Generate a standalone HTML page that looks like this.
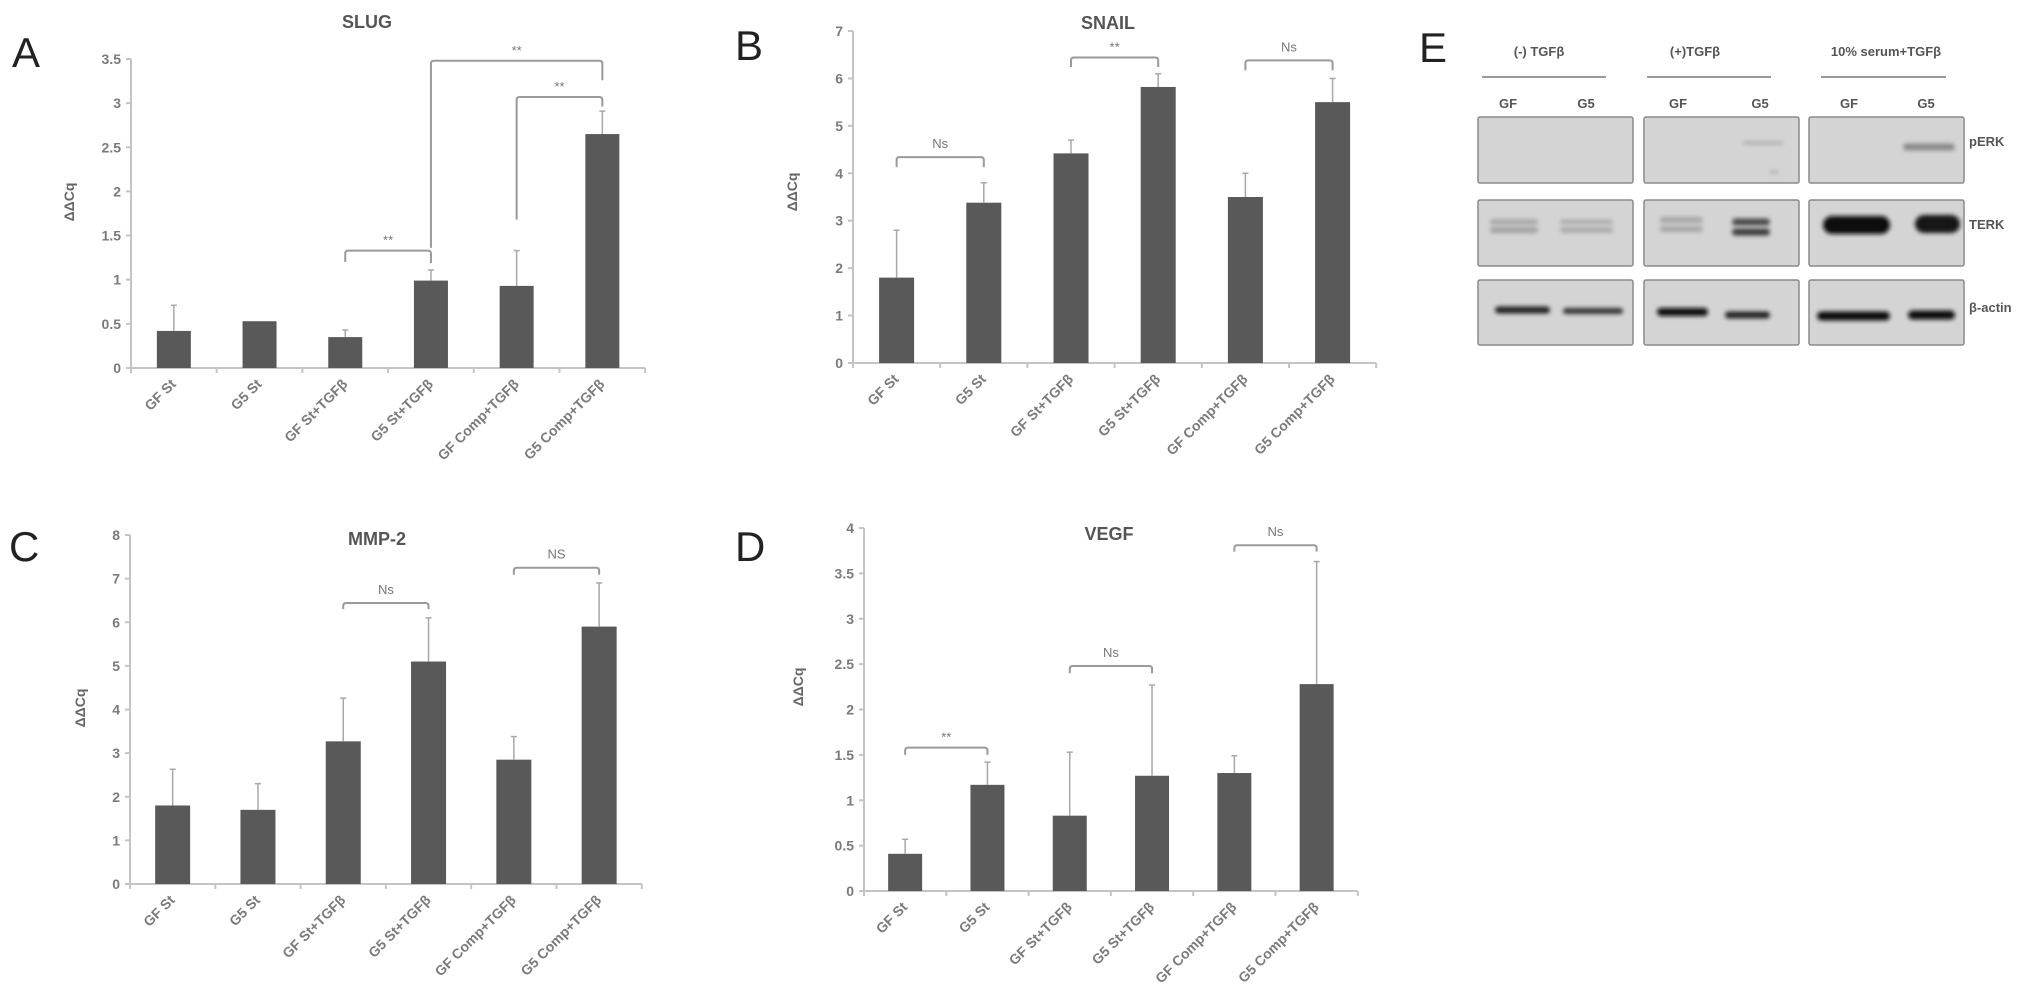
<!DOCTYPE html>
<html><head><meta charset="utf-8">
<style>
body{margin:0;background:#fff;}
svg{display:block;font-family:"Liberation Sans",sans-serif;}
.tick{fill:#7a7a7a;font-size:14px;font-weight:bold;}
.cat{fill:#7a7a7a;font-size:14px;font-weight:bold;}
.title{fill:#555;font-size:18px;font-weight:bold;}
.ylab{fill:#666;font-size:14px;font-weight:bold;}
.letter{fill:#222;font-size:42px;}
.sig{fill:#777;font-size:13px;}
.wb{fill:#555;font-size:13px;font-weight:bold;}
</style></head>
<body>
<svg id="fig" width="2031" height="1002" viewBox="0 0 2031 1002">
<defs>
<filter id="blur1" x="-20%" y="-200%" width="140%" height="500%"><feGaussianBlur stdDeviation="2.2"/></filter>
</defs>
</svg>
<script>
const categories = ["GF St","G5 St","GF St+TGFβ","G5 St+TGFβ","GF Comp+TGFβ","G5 Comp+TGFβ"];
const slugValues = [0.42,0.53,0.35,0.99,0.93,2.65];
const slugErrTop = [0.71,null,0.43,1.11,1.33,2.91];
const slugTicks = ["0","0.5","1","1.5","2","2.5","3","3.5"];
const snailValues = [1.8,3.38,4.42,5.82,3.5,5.5];
const snailErrTop = [2.8,3.8,4.7,6.1,4.0,6.0];
const snailTicks = ["0","1","2","3","4","5","6","7"];
const mmpValues = [1.8,1.7,3.27,5.1,2.85,5.9];
const mmpErrTop = [2.63,2.3,4.26,6.1,3.38,6.9];
const mmpTicks = ["0","1","2","3","4","5","6","7","8"];
const vegfValues = [0.41,1.17,0.83,1.27,1.3,2.28];
const vegfErrTop = [0.57,1.42,1.53,2.27,1.49,3.63];
const vegfTicks = ["0","0.5","1","1.5","2","2.5","3","3.5","4"];
// brackets: [fromBar, toBar, barY, leftLegY, rightLegY, label]
const slugBrackets = [[2,3,1.33,1.20,1.19,"**"],[3,5,3.48,1.36,3.26,"**"],[4,5,3.07,1.68,2.96,"**"]];
const snailBrackets = [[0,1,4.34,4.13,4.13,"Ns"],[2,3,6.44,6.24,6.24,"**"],[4,5,6.38,6.17,6.17,"Ns"]];
const mmpBrackets = [[2,3,6.44,6.3,6.3,"Ns"],[4,5,7.25,7.09,7.09,"NS"]];
const vegfBrackets = [[0,1,1.58,1.5,1.5,"**"],[2,3,2.48,2.4,2.4,"Ns"],[4,5,3.81,3.74,3.74,"Ns"]];

const NS="http://www.w3.org/2000/svg";
const fig=document.getElementById('fig');
function mk(tag,attrs,parent,text){const e=document.createElementNS(NS,tag);for(const k in attrs)e.setAttribute(k,attrs[k]);if(text!==undefined)e.textContent=text;(parent||fig).appendChild(e);return e;}

function chart(cfg){
  const g=mk('g',{});
  
  
  const x0=cfg.x0,y0=cfg.y0,step=cfg.step,ymax=cfg.ymax,yTop=cfg.yTop;
  const sy=v=>y0-(v/ymax)*(y0-yTop);
  const sx=i=>x0+step*(i+0.5);
  const xEnd=x0+step*categories.length;
  const L=mk('text',{x:cfg.lx,y:cfg.ly,class:'letter'},g,cfg.letter);
  
  
  const T=mk('text',{x:cfg.tx,y:cfg.ty,class:'title','text-anchor':'middle'},g,cfg.title);
  
  
  const Y=mk('text',{x:cfg.ylx,y:cfg.yly,class:'ylab','text-anchor':'middle',transform:`rotate(-90 ${cfg.ylx} ${cfg.yly})`},g,'ΔΔCq');
  
  
  const ya=mk('line',{x1:x0,y1:y0,x2:x0,y2:yTop,stroke:'#c4c4c4','stroke-width':2},g);
  
  
  const xa=mk('line',{x1:x0-4,y1:y0,x2:xEnd,y2:y0,stroke:'#c4c4c4','stroke-width':2},g);
  
  
  cfg.ticks.forEach((t,i)=>{
    const v=i*ymax/(cfg.ticks.length-1);
    const yy=sy(v);
    mk('line',{x1:x0-5,y1:yy,x2:x0,y2:yy,stroke:'#c4c4c4','stroke-width':2},g);
    const tl=mk('text',{x:x0-10,y:yy+5,class:'tick','text-anchor':'end'},g,t);
    
    
  });
  for(let i=0;i<=categories.length;i++){
    const xx=x0+step*i;
    mk('line',{x1:xx,y1:y0,x2:xx,y2:y0+5,stroke:'#c4c4c4','stroke-width':2},g);
  }
  categories.forEach((c,i)=>{
    const cx=sx(i)+3, cy=y0+17;
    const cl=mk('text',{x:cx,y:cy,class:'cat','text-anchor':'end',transform:`rotate(-45 ${cx} ${cy})`},g,c);
    
    
  });
  cfg.values.forEach((v,i)=>{
    const bw=cfg.bw;
    const r=mk('rect',{x:sx(i)-bw/2,y:sy(v),width:bw,height:y0-sy(v),fill:'#595959'},g);
    
    
    const e=cfg.err[i];
    if(e!=null){
      const l=mk('line',{x1:sx(i),y1:sy(v),x2:sx(i),y2:sy(e),stroke:'#a8a8a8','stroke-width':1.5},g);
      
      
      mk('line',{x1:sx(i)-3,y1:sy(e),x2:sx(i)+3,y2:sy(e),stroke:'#a8a8a8','stroke-width':1.5},g);
    }
  });
  cfg.brackets.forEach(b=>{
    const xa1=sx(b[0]),xb=sx(b[1]);
    const yb=sy(b[2]),yl=sy(b[3]),yr=sy(b[4]);
    const p=mk('path',{d:`M${xa1},${yl} L${xa1},${yb+3} Q${xa1},${yb} ${xa1+3},${yb} L${xb-3},${yb} Q${xb},${yb} ${xb},${yb+3} L${xb},${yr}`,fill:'none',stroke:'#9a9a9a','stroke-width':2},g);
    
    
    const st=mk('text',{x:(xa1+xb)/2,y:yb-(b[5]==='**'?6:9),class:'sig','text-anchor':'middle'},g,b[5]);
    
    
  });
}

chart({name:'slug-chart',letter:'A',lx:12,ly:67,title:'SLUG',tx:367,ty:28,ylx:74,yly:202,x0:131,y0:368,yTop:59,ymax:3.5,step:85.7,bw:34,ticks:slugTicks,values:slugValues,err:slugErrTop,brackets:slugBrackets});
chart({name:'snail-chart',letter:'B',lx:735,ly:60,title:'SNAIL',tx:1108,ty:29,ylx:797,yly:192,x0:853,y0:363,yTop:31,ymax:7,step:87.2,bw:35,ticks:snailTicks,values:snailValues,err:snailErrTop,brackets:snailBrackets});
chart({name:'mmp2-chart',letter:'C',lx:9,ly:561,title:'MMP-2',tx:377,ty:545,ylx:85,yly:708,x0:130,y0:884,yTop:535,ymax:8,step:85.3,bw:35,ticks:mmpTicks,values:mmpValues,err:mmpErrTop,brackets:mmpBrackets});
chart({name:'vegf-chart',letter:'D',lx:735,ly:561,title:'VEGF',tx:1109,ty:540,ylx:803,yly:687,x0:864,y0:891,yTop:528,ymax:4,step:82.3,bw:34,ticks:vegfTicks,values:vegfValues,err:vegfErrTop,brackets:vegfBrackets});

const E=mk('g',{});


const el=mk('text',{x:1419,y:62,class:'letter'},E,'E');


const groups=[["(-) TGFβ",1539,1482,1606,1508,1586],["(+)TGFβ",1695,1647,1771,1678,1760],["10% serum+TGFβ",1886,1821,1946,1849,1926]];
groups.forEach(gr=>{
  const h=mk('text',{x:gr[1],y:56,class:'wb','text-anchor':'middle'},E,gr[0]);
  
  
  mk('line',{x1:gr[2],y1:77,x2:gr[3],y2:77,stroke:'#999','stroke-width':2},E);
  const a=mk('text',{x:gr[4],y:108,class:'wb','text-anchor':'middle'},E,'GF');
  
  
  const b=mk('text',{x:gr[5],y:108,class:'wb','text-anchor':'middle'},E,'G5');
  
  
});
const boxX=[1478,1644,1809], rowsY=[[117,183],[200,266],[280,345]];
rowsY.forEach(r=>boxX.forEach(x=>{
  const b=mk('rect',{x:x,y:r[0],width:155,height:r[1]-r[0],fill:'#d4d4d4',stroke:'#8a8a8a','stroke-width':1.5,rx:2},E);
  
  
}));
const bands=[
 [1743,1783,143,3,'#aaa'],[1770,1778,172,3,'#aaa'],[1903,1955,147,7,'#8a8a8a'],
 [1490,1538,222,6,'#a8a8a8'],[1490,1538,230,6,'#a0a0a0'],[1560,1613,222,5,'#acacac'],[1560,1613,230,5,'#a6a6a6'],
 [1660,1703,220,6,'#a6a6a6'],[1660,1703,229,6,'#a6a6a6'],[1732,1770,222,7,'#4a4a4a'],[1732,1770,232,7,'#3a3a3a'],
 [1823,1890,225,18,'#0d0d0d'],[1915,1960,224,18,'#151515'],
 [1495,1550,310,7,'#222'],[1563,1623,311,6,'#333'],[1657,1708,312,8,'#111'],[1725,1770,315,7,'#222'],
 [1817,1890,316,9,'#111'],[1908,1955,315,9,'#111']
];
bands.forEach(b=>{
  const r=mk('rect',{x:b[0],y:b[2]-b[3]/2,width:b[1]-b[0],height:b[3],fill:b[4],rx:b[3]/2,filter:'url(#blur1)'},E);
  
  
});
[["pERK",146],["TERK",229],["β-actin",312]].forEach(l=>{
  const t=mk('text',{x:1969,y:l[1],class:'wb'},E,l[0]);
  
  
});
</script>
</body></html>
